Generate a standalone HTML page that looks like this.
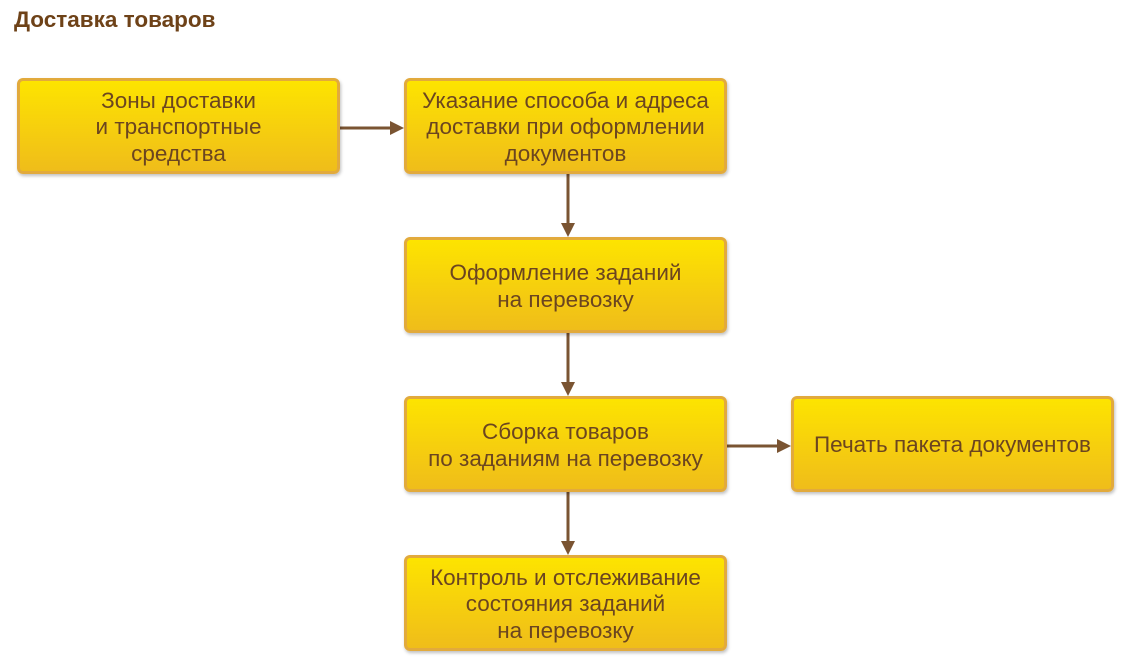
<!DOCTYPE html>
<html><head><meta charset="utf-8"><style>
body{margin:0;width:1121px;height:661px;background:#fff;position:relative;overflow:hidden;font-family:"Liberation Sans",sans-serif}
.t{position:absolute;left:14px;top:7px;font-size:22.5px;font-weight:bold;color:#6e4218}
.b{position:absolute;box-sizing:border-box;width:323px;height:96px;border:3px solid #e2aa3c;border-radius:6px;background:linear-gradient(#fde400,#f5cc10 60%,#efbd1a);box-shadow:1px 2px 3px rgba(0,0,0,.25);display:flex;align-items:center;justify-content:center;text-align:center;font-size:22.5px;line-height:26.5px;color:#6b4520;padding-top:3px}
</style></head><body>
<div class="t">Доставка товаров</div>
<svg width="1121" height="661" style="position:absolute;left:0;top:0">
<g stroke="#7a5432" stroke-width="3" fill="#7a5432">
<line x1="339" y1="128" x2="392" y2="128"/><polygon points="404,128 390,121 390,135" stroke="none"/>
<line x1="568" y1="174" x2="568" y2="226"/><polygon points="568,237 561,223 575,223" stroke="none"/>
<line x1="568" y1="332" x2="568" y2="385"/><polygon points="568,396 561,382 575,382" stroke="none"/>
<line x1="726" y1="446" x2="779" y2="446"/><polygon points="791,446 777,439 777,453" stroke="none"/>
<line x1="568" y1="491" x2="568" y2="544"/><polygon points="568,555 561,541 575,541" stroke="none"/>
</g></svg>
<div class="b" style="left:17px;top:78px">Зоны доставки<br>и транспортные<br>средства</div>
<div class="b" style="left:404px;top:78px">Указание способа и адреса<br>доставки при оформлении<br>документов</div>
<div class="b" style="left:404px;top:237px">Оформление заданий<br>на перевозку</div>
<div class="b" style="left:404px;top:396px">Сборка товаров<br>по заданиям на перевозку</div>
<div class="b" style="left:791px;top:396px">Печать пакета документов</div>
<div class="b" style="left:404px;top:555px">Контроль и отслеживание<br>состояния заданий<br>на перевозку</div>
</body></html>
